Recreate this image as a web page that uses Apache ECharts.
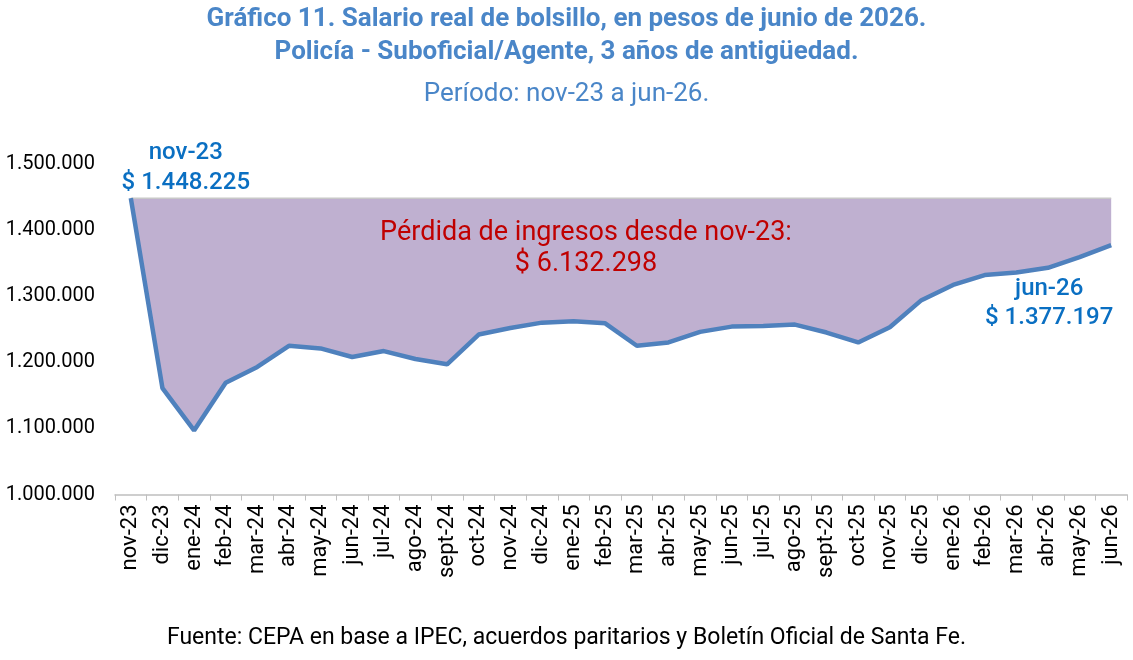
<!DOCTYPE html>
<html>
<head>
<meta charset="utf-8">
<script src="https://cdn.jsdelivr.net/npm/echarts@6/dist/echarts.min.js"></script>
<style>
html,body{margin:0;padding:0;background:#fff;}
#chart{width:1133px;height:660px;}
</style>
</head>
<body>
<div id="chart"></div>
<script>
var categories = ['nov-23','dic-23','ene-24','feb-24','mar-24','abr-24','may-24','jun-24','jul-24','ago-24','sept-24','oct-24','nov-24','dic-24','ene-25','feb-25','mar-25','abr-25','may-25','jun-25','jul-25','ago-25','sept-25','oct-25','nov-25','dic-25','ene-26','feb-26','mar-26','abr-26','may-26','jun-26'];
var salario = [1448225,1161000,1097000,1169000,1193000,1225000,1221000,1208000,1217000,1205000,1197000,1242000,1252000,1260000,1262000,1259000,1225000,1230000,1246000,1254000,1255000,1257000,1245000,1230000,1253000,1294000,1317000,1332000,1336000,1343000,1359000,1377197];
var baseValue = 1448225;
var yTicks = [1000000,1100000,1200000,1300000,1400000,1500000];
var titleLines = ['Gráfico 11. Salario real de bolsillo, en pesos de junio de 2026.','Policía - Suboficial/Agente, 3 años de antigüedad.','Período: nov-23 a jun-26.'];
var perdidaText = ['Pérdida de ingresos desde nov-23:','$ 6.132.298'];
var fuente = 'Fuente: CEPA en base a IPEC, acuerdos paritarios y Boletín Oficial de Santa Fe.';

function fmt(v){ return String(Math.round(v)).replace(/\B(?=(\d{3})+(?!\d))/g,'.'); }
var gap = salario.map(function(v){ return baseValue - v; });

var chart = echarts.init(document.getElementById('chart'));
var blue = '#4a86c8';
var annBlue = '#0a6fc2';
chart.setOption({
  animation:false,
  textStyle:{fontFamily:'Roboto'},
  title:[
    {text:titleLines[0],left:'center',top:1,textStyle:{fontFamily:'Roboto',fontSize:26,fontWeight:'bold',color:blue}},
    {text:titleLines[1],left:'center',top:34,textStyle:{fontFamily:'Roboto',fontSize:26,fontWeight:'bold',color:blue}},
    {text:titleLines[2],left:'center',top:76,textStyle:{fontFamily:'Roboto',fontSize:26,fontWeight:'normal',color:blue}},
    {text:fuente,left:'center',top:622,textStyle:{fontFamily:'Roboto',fontSize:23,fontWeight:'normal',color:'#000'}}
  ],
  grid:{left:115,right:6,top:164,bottom:165.5,containLabel:false},
  xAxis:{
    type:'category',data:categories,boundaryGap:true,
    axisLine:{lineStyle:{color:'#bfbfbf',width:1.5}},
    axisTick:{show:true,interval:0,length:6,lineStyle:{color:'#bfbfbf'}},
    axisLabel:{rotate:90,interval:0,fontSize:22,color:'#000',fontFamily:'Roboto',margin:10}
  },
  yAxis:{
    type:'value',min:yTicks[0],max:yTicks[yTicks.length-1],interval:100000,
    axisLine:{show:false},axisTick:{show:false},splitLine:{show:false},
    axisLabel:{fontSize:20,color:'#000',fontFamily:'Roboto',margin:20,formatter:function(v){return fmt(v);}}
  },
  series:[
    {type:'line',stack:'s',data:salario,symbol:'none',lineStyle:{width:0,opacity:0},silent:true,z:1},
    {type:'line',stack:'s',data:gap,symbol:'none',lineStyle:{color:'#c8c8c8',width:1.5},areaStyle:{color:'#bfb0d0',opacity:1},silent:true,z:1},
    {type:'line',data:salario,symbol:'none',lineStyle:{color:'#4f81bd',width:4.5},z:3,
      markPoint:{symbol:'circle',symbolSize:0,silent:true,
        data:[
          {coord:[categories[0],salario[0]],label:{show:true,formatter:categories[0]+'\n$ '+fmt(salario[0]),fontFamily:'Roboto',fontSize:24,fontWeight:500,color:annBlue,lineHeight:30,align:'center',offset:[55,-30]}},
          {coord:[categories[categories.length-1],salario[salario.length-1]],label:{show:true,formatter:categories[categories.length-1]+'\n$ '+fmt(salario[salario.length-1]),fontFamily:'Roboto',fontSize:24,fontWeight:500,color:annBlue,lineHeight:29,align:'center',offset:[-62,58]}}
        ]}
    }
  ],
  graphic:[
    {type:'text',x:586,y:249,style:{text:perdidaText.join('\n'),fontFamily:'Roboto',fontSize:27,fill:'#c00000',textAlign:'center',textVerticalAlign:'middle',lineHeight:31},z:10}
  ]
});
</script>
</body>
</html>
